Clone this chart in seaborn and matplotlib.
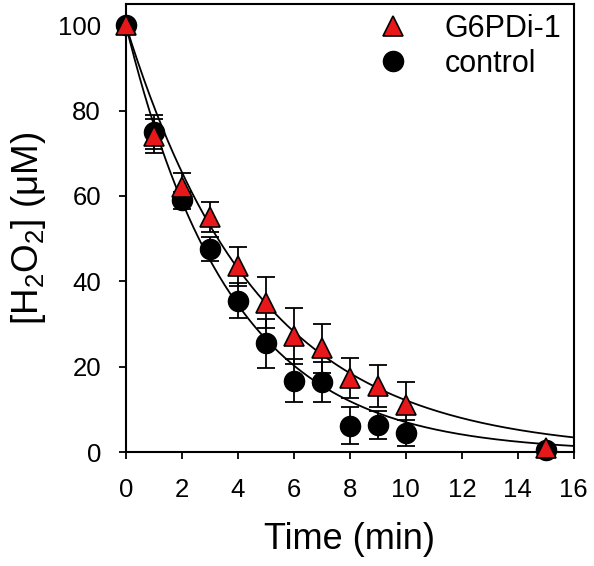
import numpy as np
import pandas as pd
import matplotlib
matplotlib.use("Agg")
import matplotlib.pyplot as plt
import seaborn as sns

sns.set_theme(style="white")
plt.rcParams['font.family'] = ['Liberation Sans', 'DejaVu Sans']
plt.rcParams['mathtext.default'] = 'regular'

# Data
time_min = [0, 1, 2, 3, 4, 5, 6, 7, 8, 9, 10, 15]
g6pdi_vals = [100, 74, 62, 55, 43.5, 35, 27.2, 24.3, 17.3, 15.5, 11, 0.9]
g6pdi_err = [0, 4, 3.5, 3.5, 4.5, 6, 6.5, 5.7, 4.7, 5, 5.5, 0]
control_vals = [100, 75, 59, 47.5, 35.5, 25.5, 16.7, 16.4, 6.2, 6.3, 4.4, 0.5]
control_err = [0, 4, 2, 2.8, 4, 5.7, 5, 4.7, 4.3, 3.3, 3, 0]
# Fitted first-order decay rate constants (1/min)
k_g6pdi = 0.211
k_control = 0.266
x_ticks = [0, 2, 4, 6, 8, 10, 12, 14, 16]
y_ticks = [0, 20, 40, 60, 80, 100]

df = pd.DataFrame({
    "Time": time_min * 2,
    "H2O2": g6pdi_vals + control_vals,
    "err": g6pdi_err + control_err,
    "group": ["G6PDi-1"] * len(time_min) + ["control"] * len(time_min),
})

fig = plt.figure(figsize=(5.94, 5.66), dpi=100)
ax = fig.add_axes([0.212, 0.2014, 0.754, 0.7916])

# fitted curves
tfit = np.linspace(0, 16, 300)
fit_df = pd.DataFrame({
    "Time": np.concatenate([tfit, tfit]),
    "H2O2": np.concatenate([100 * np.exp(-k_g6pdi * tfit), 100 * np.exp(-k_control * tfit)]),
    "group": ["G6PDi-1"] * len(tfit) + ["control"] * len(tfit),
})
sns.lineplot(data=fit_df, x="Time", y="H2O2", units="group", estimator=None,
             color="black", lw=1.3, ax=ax, legend=False, zorder=2)

# error bars
for g in ["control", "G6PDi-1"]:
    sub = df[df.group == g]
    ax.errorbar(sub.Time, sub.H2O2, yerr=sub.err, fmt='none', ecolor='black',
                elinewidth=1.3, capsize=6.5, capthick=1.3, zorder=3, clip_on=False)

sub_c = df[df.group == "control"]
sub_g = df[df.group == "G6PDi-1"]
ax.plot(sub_c.Time, sub_c.H2O2, 'o', ms=14.5, color='black', mec='black',
        zorder=4, clip_on=False, label="control")
ax.plot(sub_g.Time, sub_g.H2O2, '^', ms=14, color='#e8181a', mec='black', mew=1.2,
        zorder=5, clip_on=False, label="G6PDi-1")

ax.set_xlim(0, 16)
ax.set_ylim(0, 105)
ax.set_xticks(x_ticks)
ax.set_yticks(y_ticks)
ax.tick_params(axis='both', direction='out', length=5, width=1.3, labelsize=18.5,
               colors='black', bottom=True, left=True, top=False, right=False)
ax.tick_params(axis='x', pad=14)
ax.tick_params(axis='y', pad=13)
for s in ax.spines.values():
    s.set_color('black')
    s.set_linewidth(1.5)

ax.set_xlabel("Time (min)", fontsize=26, labelpad=14, color='black')
ax.set_ylabel("[H$_2$O$_2$] (μM)", fontsize=26.5, labelpad=7, color='black')

handles, labels = ax.get_legend_handles_labels()
order = [labels.index("G6PDi-1"), labels.index("control")]
leg = ax.legend([handles[i] for i in order], [labels[i] for i in order],
                loc='upper right', frameon=False, fontsize=22, handlelength=1.0,
                handletextpad=1.2, borderaxespad=0.0, labelspacing=0.15,
                bbox_to_anchor=(1.0, 1.005))
for t in leg.get_texts():
    t.set_color('black')

fig.savefig("out.png", dpi=100)
